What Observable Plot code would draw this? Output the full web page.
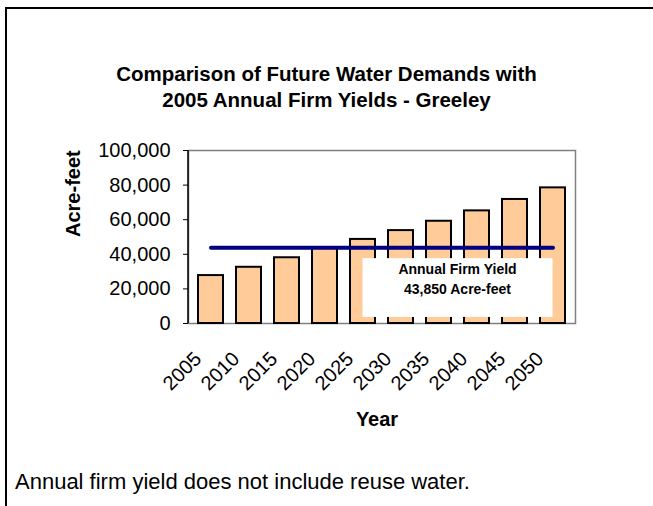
<!DOCTYPE html>
<html>
<head>
<meta charset="utf-8">
<script src="https://cdn.jsdelivr.net/npm/d3@7"></script>
<script src="https://cdn.jsdelivr.net/npm/@observablehq/plot@0.6"></script>
<style>
  body { margin: 0; background: #fff; font-family: Arial, "Liberation Sans", sans-serif; color: #000; }
  #page { position: relative; width: 653px; height: 506px; overflow: hidden; background: #fff; }
  #borderLeft { position: absolute; left: 5px; top: 7px; width: 2px; height: 499px; background: #000; z-index: 2; }
  #borderTop { position: absolute; left: 5px; top: 7px; width: 648px; height: 2px; background: #000; z-index: 2; }
  #title { position: absolute; left: 0; top: 61px; width: 653px; text-align: center; font-weight: bold; font-size: 20.5px; line-height: 26px; }
  #chart { position: absolute; left: 0; top: 120px; z-index: 1; }
  #caption { position: absolute; left: 15px; top: 470px; font-size: 22px; line-height: 24px; }
</style>
</head>
<body>
<div id="page">
  <div id="title">Comparison of Future Water Demands with<br>2005 Annual Firm Yields - Greeley</div>
  <div id="chart"></div>
  <div id="caption">Annual firm yield does not include reuse water.</div>
  <div id="borderLeft"></div>
  <div id="borderTop"></div>
</div>
<script>
// ---- data ----
const years = ["2005", "2010", "2015", "2020", "2025", "2030", "2035", "2040", "2045", "2050"];
const demand = [27700, 32500, 38000, 43500, 48600, 53700, 59100, 65100, 71700, 78400];
const firmYield = 43850;
const yTicks = [0, 20000, 40000, 60000, 80000, 100000];
const boxLines = ["Annual Firm Yield", "43,850 Acre-feet"];
const boxYears = ["2025", "2050"];
const boxRange = [3500, 37500];
const boxTextY = [31200, 19650];
const yLabel = "Acre-feet";
const xLabel = "Year";

const bars = years.map((year, i) => ({year, demand: demand[i]}));
const yieldLine = years.map(year => ({year, value: firmYield}));

function yieldBox(index, scales, values, dims) {
  const x = scales.x, y = scales.y;
  const bw = x.bandwidth ? x.bandwidth() : 0;
  const x0 = x(boxYears[0]) + bw / 2;
  const x1 = x(boxYears[1]) + bw / 2;
  const g = d3.create("svg:g");
  g.append("rect")
    .attr("x", x0).attr("y", y(boxRange[1]))
    .attr("width", x1 - x0).attr("height", y(boxRange[0]) - y(boxRange[1]))
    .attr("fill", "#fff");
  boxLines.forEach((t, i) => {
    g.append("text")
      .attr("x", (x0 + x1) / 2).attr("y", y(boxTextY[i]))
      .attr("dy", "0.35em").attr("text-anchor", "middle")
      .attr("font-weight", "bold").attr("font-size", 14)
      .attr("fill", "#000")
      .text(t);
  });
  return g.node();
}

function leftAxisLine(index, scales, values, dims) {
  const g = d3.create("svg:g");
  g.append("line")
    .attr("x1", dims.marginLeft).attr("x2", dims.marginLeft)
    .attr("y1", dims.marginTop).attr("y2", dims.height - dims.marginBottom)
    .attr("stroke", "#000").attr("stroke-width", 1.5);
  return g.node();
}

const chart = Plot.plot({
  width: 653,
  height: 330,
  marginLeft: 188,
  marginRight: 78,
  marginTop: 30,
  marginBottom: 127,
  style: {fontFamily: 'Arial, "Liberation Sans", sans-serif', background: "transparent", color: "#000"},
  x: {domain: years, paddingInner: 0.33, paddingOuter: 0.18},
  y: {domain: [0, 100000]},
  marks: [
    Plot.frame({stroke: "#808080", strokeWidth: 1.5}),
    Plot.barY(bars, {x: "year", y: "demand", fill: "#FFCC99", stroke: "#000", strokeWidth: 2}),
    Plot.lineY(yieldLine, {x: "year", y: "value", stroke: "#000080", strokeWidth: 4, strokeLinecap: "round"}),
    yieldBox,
    leftAxisLine,
    Plot.axisY(yTicks, {tickFormat: d3.format(","), tickSize: 5, tickPadding: 13, fontSize: 20, label: null}),
    Plot.axisX({tickRotate: -45, tickSize: 0, tickPadding: 3, dx: -13, dy: 29, fontSize: 20, label: null}),
    Plot.text([yLabel], {frameAnchor: "left", rotate: -90, dx: -115, fontWeight: "bold", fontSize: 20}),
    Plot.text([xLabel], {frameAnchor: "bottom", dx: -5, dy: 102, fontWeight: "bold", fontSize: 20})
  ]
});
document.getElementById("chart").appendChild(chart);
</script>
</body>
</html>
